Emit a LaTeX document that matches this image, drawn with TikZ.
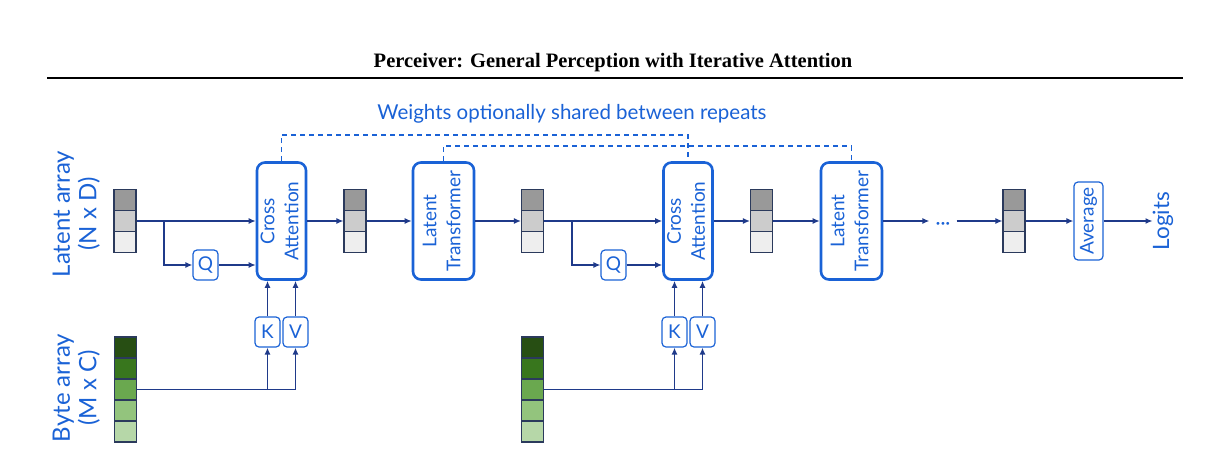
\documentclass[tikz,border=0pt]{standalone}
\usepackage{fontspec}
\setmainfont{Liberation Serif}
\newfontfamily\diagfont{Lato}
\usepackage{graphicx}
\usetikzlibrary{arrows.meta}

\definecolor{pblue}{HTML}{1A62D6}
\definecolor{pnavy}{HTML}{1F3A8A}
\definecolor{pedge}{HTML}{2B3A5C}
\definecolor{gray1}{HTML}{999999}
\definecolor{gray2}{HTML}{CCCCCC}
\definecolor{gray3}{HTML}{EEEEEE}
\definecolor{green1}{HTML}{274E13}
\definecolor{green2}{HTML}{38761D}
\definecolor{green3}{HTML}{6AA84F}
\definecolor{green4}{HTML}{93C47D}
\definecolor{green5}{HTML}{B6D7A8}

\begin{document}
\begin{tikzpicture}[x=1pt,y=-1pt,>={Latex[length=7pt,width=6pt]},
  cell/.style={draw=pedge,line width=1.1pt,minimum width=22pt,minimum height=21pt,inner sep=0pt},
  block/.style={draw=pblue,line width=2.6pt,rounded corners=8pt,text=pblue,minimum height=117pt,inner sep=0pt,font=\diagfont\fontsize{19}{24}\selectfont},
  tag/.style={draw=pblue,line width=1.2pt,rounded corners=4pt,text=pblue,minimum width=25pt,minimum height=30pt,inner sep=0pt,font=\diagfont\fontsize{19}{22}\selectfont},
  arr/.style={->,draw=pnavy,line width=1.3pt},
  share/.style={draw=pblue,line width=1.2pt,dash pattern=on 5pt off 4pt},
  lbl/.style={text=pblue,font=\diagfont\fontsize{24}{26}\selectfont,inner sep=0pt}]
  \useasboundingbox (0,0) rectangle (1226,467);

  % title and rule
  \node[font=\fontsize{20.5}{24}\selectfont\bfseries] (title) at (613,63) {Perceiver: General Perception with Iterative Attention};
  \draw[line width=2pt] (47,77.5) -- (1183,77.5);

  % side labels
  \node[lbl] (latlbl) at (78,214) {\rotatebox{90}{\begin{tabular}{@{}c@{}}Latent array\\(N x D)\end{tabular}}};
  \node[lbl] (bytelbl) at (78,388) {\rotatebox{90}{\begin{tabular}{@{}c@{}}Byte array\\(M x C)\end{tabular}}};
  \node[text=pblue,font=\diagfont\fontsize{20.5}{24}\selectfont] (wlbl) at (572,114) {Weights optionally shared between repeats};

  % latent arrays
  \node[cell,fill=gray1] (l1-1) at (125,200) {};
  \node[cell,fill=gray2] (l1-2) at (125,221) {};
  \node[cell,fill=gray3] (l1-3) at (125,242) {};
  \node[cell,fill=gray1] (l2-1) at (355,200) {};
  \node[cell,fill=gray2] (l2-2) at (355,221) {};
  \node[cell,fill=gray3] (l2-3) at (355,242) {};
  \node[cell,fill=gray1] (l3-1) at (532.5,200) {};
  \node[cell,fill=gray2] (l3-2) at (532.5,221) {};
  \node[cell,fill=gray3] (l3-3) at (532.5,242) {};
  \node[cell,fill=gray1] (l4-1) at (761.5,200) {};
  \node[cell,fill=gray2] (l4-2) at (761.5,221) {};
  \node[cell,fill=gray3] (l4-3) at (761.5,242) {};
  \node[cell,fill=gray1] (l5-1) at (1014,200) {};
  \node[cell,fill=gray2] (l5-2) at (1014,221) {};
  \node[cell,fill=gray3] (l5-3) at (1014,242) {};

  % byte arrays
  \node[cell,fill=green1] (b1-1) at (125.5,347.5) {};
  \node[cell,fill=green2] (b1-2) at (125.5,368.5) {};
  \node[cell,fill=green3] (b1-3) at (125.5,389.5) {};
  \node[cell,fill=green4] (b1-4) at (125.5,410.5) {};
  \node[cell,fill=green5] (b1-5) at (125.5,431.5) {};
  \node[cell,fill=green1] (b2-1) at (532.5,347.5) {};
  \node[cell,fill=green2] (b2-2) at (532.5,368.5) {};
  \node[cell,fill=green3] (b2-3) at (532.5,389.5) {};
  \node[cell,fill=green4] (b2-4) at (532.5,410.5) {};
  \node[cell,fill=green5] (b2-5) at (532.5,431.5) {};

  % blocks
  \node[block,minimum width=49pt] (ca1) at (281.5,221) {\rotatebox{90}{\begin{tabular}{@{}c@{}}Cross\\Attention\end{tabular}}};
  \node[block,minimum width=61pt] (lt1) at (443.5,221) {\rotatebox{90}{\begin{tabular}{@{}c@{}}Latent\\Transformer\end{tabular}}};
  \node[block,minimum width=49pt] (ca2) at (688,221) {\rotatebox{90}{\begin{tabular}{@{}c@{}}Cross\\Attention\end{tabular}}};
  \node[block,minimum width=61pt] (lt2) at (851.5,221) {\rotatebox{90}{\begin{tabular}{@{}c@{}}Latent\\Transformer\end{tabular}}};

  \node[tag] (q1) at (205.5,265) {Q};
  \node[tag] (k1) at (267.5,332) {K};
  \node[tag] (v1) at (295.5,332) {V};
  \node[tag] (q2) at (613.5,265) {Q};
  \node[tag] (k2) at (674.5,332) {K};
  \node[tag] (v2) at (702.5,332) {V};
  \node[tag,minimum width=29pt,minimum height=78pt] (avg) at (1088.5,221) {\rotatebox{90}{Average}};
  \node[text=pblue,font=\diagfont\fontsize{19}{22}\selectfont,inner sep=6pt] (dots) at (943,226) {···};
  \node[lbl,font=\diagfont\fontsize{22.5}{26}\selectfont] (logits) at (1163,221) {\rotatebox{90}{Logits}};

  % weight sharing
  \coordinate (shA) at (0,135);
  \coordinate (shB) at (0,146);
  \draw[share] (ca1.north) -- (ca1.north |- shA) -| (ca2.north);
  \draw[share] (lt1.north) -- (lt1.north |- shB) -| (lt2.north);

  % main flow
  \coordinate (br1) at (164,221);
  \coordinate (br2) at (572,221);
  \draw[arr] (l1-2) -- (ca1);
  \draw[arr] (br1) |- (q1);
  \draw[arr] (q1) -- (q1 -| ca1.west);
  \draw[arr] (ca1) -- (l2-2);
  \draw[arr] (l2-2) -- (lt1);
  \draw[arr] (lt1) -- (l3-2);
  \draw[arr] (l3-2) -- (ca2);
  \draw[arr] (br2) |- (q2);
  \draw[arr] (q2) -- (q2 -| ca2.west);
  \draw[arr] (ca2) -- (l4-2);
  \draw[arr] (l4-2) -- (lt2);
  \draw[arr] (lt2) -- (dots.west |- lt2);
  \draw[arr] (dots.east |- l5-2) -- (l5-2);
  \draw[arr] (l5-2) -- (avg);
  \draw[arr] (avg) -- (logits);

  % keys and values
  \draw[arr] (b1-3.east) -| (k1);
  \draw[arr] (b1-3.east) -| (v1);
  \draw[arr] (k1) -- (k1 |- ca1.south);
  \draw[arr] (v1) -- (v1 |- ca1.south);
  \draw[arr] (b2-3.east) -| (k2);
  \draw[arr] (b2-3.east) -| (v2);
  \draw[arr] (k2) -- (k2 |- ca2.south);
  \draw[arr] (v2) -- (v2 |- ca2.south);
\end{tikzpicture}
\end{document}
